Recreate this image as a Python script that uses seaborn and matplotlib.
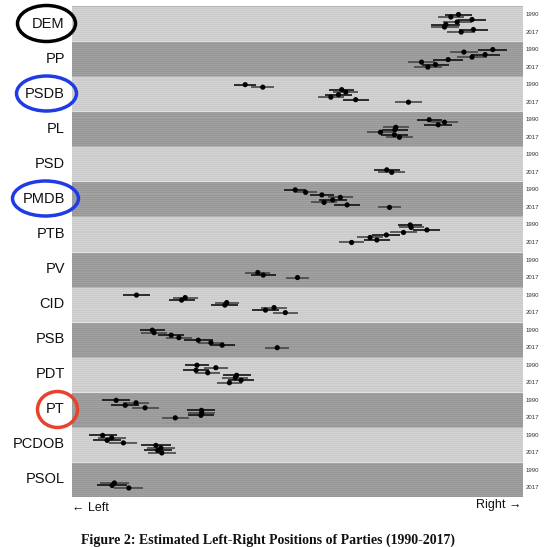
import numpy as np
import pandas as pd
import matplotlib
matplotlib.use("Agg")
import matplotlib.pyplot as plt
from matplotlib.patches import Ellipse
import seaborn as sns

sns.set_theme(style="white")
plt.rcParams["font.family"] = ["Liberation Sans", "DejaVu Sans"]

# ---------------- data (x on a 0-100 left-right scale) ----------------
parties = ["DEM", "PP", "PSDB", "PL", "PSD", "PMDB", "PTB", "PV",
           "CID", "PSB", "PDT", "PT", "PCDOB", "PSOL"]
waves = [1990, 1993, 1997, 2001, 2005, 2009, 2013, 2017]

dem_x = [85.7, 84.0, 88.7, 85.4, 82.9, 82.6, 89.0, 86.3]
dem_e = [3.0, 2.9, 3.2, 3.2, 3.2, 3.1, 3.2, 3.1]
pp_x = [93.3, 86.9, 91.6, 88.7, 83.4, 77.5, 80.6, 78.9]
pp_e = [3.2, 3.1, 3.2, 3.3, 3.3, 3.0, 3.1, 3.1]
psdb_x = [38.4, 42.3, 59.8, 60.7, 59.1, 57.4, 62.9, 74.6]
psdb_e = [2.4, 2.5, 2.8, 2.8, 3.0, 2.9, 2.9, 3.0]
pl_x = [79.2, 82.6, 81.2, 71.8, 71.6, 68.4, 71.5, 72.6]
pl_e = [2.8, 2.9, 3.1, 2.9, 2.9, 2.9, 2.9, 2.9]
psd_x = [69.8, 70.9]
psd_e = [2.9, 3.0]
pmdb_x = [49.5, 51.8, 55.4, 59.5, 57.8, 55.9, 61.0, 70.4]
pmdb_e = [2.4, 2.6, 2.7, 2.8, 3.1, 2.8, 2.8, 2.6]
ptb_x = [75.0, 75.2, 78.7, 73.5, 69.7, 66.1, 67.6, 62.0]
ptb_e = [2.7, 2.8, 3.0, 2.9, 3.1, 2.9, 2.8, 2.7]
pv_x = [41.2, 42.4, 50.0]
pv_e = [2.8, 2.8, 2.6]
cid_x = [14.3, 25.1, 24.3, 34.3, 33.9, 44.8, 42.9, 47.3]
cid_e = [2.9, 2.8, 2.9, 2.7, 3.0, 2.8, 2.9, 2.7]
psb_x = [17.8, 18.2, 22.0, 23.7, 28.0, 30.8, 33.3, 45.5]
psb_e = [2.8, 2.9, 2.9, 2.9, 3.2, 2.8, 2.8, 2.7]
pdt_x = [27.7, 31.9, 27.5, 30.1, 36.5, 36.2, 37.5, 34.9]
pdt_e = [2.7, 2.7, 2.8, 2.8, 3.1, 2.9, 2.8, 2.8]
pt_x = [9.8, 14.2, 11.8, 16.2, 28.7, 28.8, 28.6, 22.9]
pt_e = [3.1, 2.9, 3.1, 3.0, 3.1, 3.0, 2.9, 3.0]
pcdob_x = [6.8, 8.8, 7.8, 11.4, 18.6, 19.7, 19.0, 19.9]
pcdob_e = [3.1, 3.1, 3.1, 3.1, 3.3, 3.1, 3.1, 3.1]
psol_x = [9.4, 8.9, 12.6]
psol_e = [3.3, 3.3, 3.2]

series = {
    "DEM": (waves, dem_x, dem_e), "PP": (waves, pp_x, pp_e),
    "PSDB": (waves, psdb_x, psdb_e), "PL": (waves, pl_x, pl_e),
    "PSD": (waves[6:], psd_x, psd_e), "PMDB": (waves, pmdb_x, pmdb_e),
    "PTB": (waves, ptb_x, ptb_e), "PV": (waves[5:], pv_x, pv_e),
    "CID": (waves, cid_x, cid_e), "PSB": (waves, psb_x, psb_e),
    "PDT": (waves, pdt_x, pdt_e), "PT": (waves, pt_x, pt_e),
    "PCDOB": (waves, pcdob_x, pcdob_e), "PSOL": (waves[5:], psol_x, psol_e),
}

rows = []
for b, p in enumerate(parties):
    yrs, xs, es = series[p]
    for yr, x, e in zip(yrs, xs, es):
        k = waves.index(yr)
        rows.append(dict(party=p, band=b, wave=k, year=yr, x=x, err=e,
                         y=b + (8.5 + 2.5 * k) / 35.0))
df = pd.DataFrame(rows)

# ---------------- figure ----------------
W, H = 554, 547
fig = plt.figure(figsize=(W / 100, H / 100), dpi=100)
fig.patch.set_facecolor("white")
ax = fig.add_axes([72 / W, 1 - 497 / H, 451 / W, 491 / H])

light, dark = "#cecece", "#9b9b9b"
fracs = np.linspace(0.04, 0.96, 34)
for b in range(len(parties)):
    base = light if b % 2 == 0 else dark
    ax.axhspan(b, b + 1, color=base, lw=0, zorder=0)
    shade = ["#d6d6d6", "#c8c8c8"] if b % 2 == 0 else ["#a6a6a6", "#969696"]
    for j, f in enumerate(fracs):
        ax.axhline(b + f, color=shade[j % 2], lw=0.45, zorder=0.5)
    ax.axhline(b, color="#e2e2e2" if b % 2 else "#b5b5b5", lw=0.8, zorder=0.6)

bar_cols = np.where(df["wave"] % 2 == 0, "#111111", "#474747")
ax.hlines(df["y"], df["x"] - df["err"], df["x"] + df["err"],
          colors=bar_cols, lw=1.2, zorder=2)
sns.scatterplot(data=df, x="x", y="y", color="black", s=14,
                edgecolor="none", ax=ax, zorder=3, legend=False)

ax.set_xlim(0, 100)
ax.set_ylim(len(parties), 0)
ax.set_xticks([])
ax.set_yticks([])
ax.set_xlabel("")
ax.set_ylabel("")
for s in ax.spines.values():
    s.set_visible(False)

# party labels and year labels
for b, p in enumerate(parties):
    ax.text(-0.016, b + 0.5, p, transform=ax.get_yaxis_transform(),
            ha="right", va="center", fontsize=10.5, color="#111111")
    ax.text(1.005, b + 8.5 / 35, "1990", transform=ax.get_yaxis_transform(),
            ha="left", va="center", fontsize=4.3, color="#333333")
    ax.text(1.005, b + 26 / 35, "2017", transform=ax.get_yaxis_transform(),
            ha="left", va="center", fontsize=4.3, color="#333333")

# highlight ellipses (pixel geometry)
for (cx, cy, w, h, col) in [(46.5, 23.5, 58, 36, "#000000"),
                            (46.5, 93.5, 60, 35, "#1f3be6"),
                            (45.5, 198.5, 66, 35, "#1f3be6"),
                            (57.5, 409.5, 40, 36, "#e8422c")]:
    fig.add_artist(Ellipse((cx / W, 1 - cy / H), w / W, h / H,
                           transform=fig.transFigure, fill=False,
                           ec=col, lw=2.5))

fig.text(72 / W, 1 - 508 / H, "\u2190 Left", ha="left", va="center",
         fontsize=9, color="#111111")
fig.text(521 / W, 1 - 505 / H, "Right \u2192", ha="right", va="center",
         fontsize=9, color="#111111")
fig.text(268 / W, 1 - 540 / H,
         "Figure 2: Estimated Left-Right Positions of Parties (1990-2017)",
         ha="center", va="center", fontsize=10, fontweight="bold",
         family=["Liberation Serif", "DejaVu Serif"], color="#111111")

fig.savefig("out.png", dpi=100)
